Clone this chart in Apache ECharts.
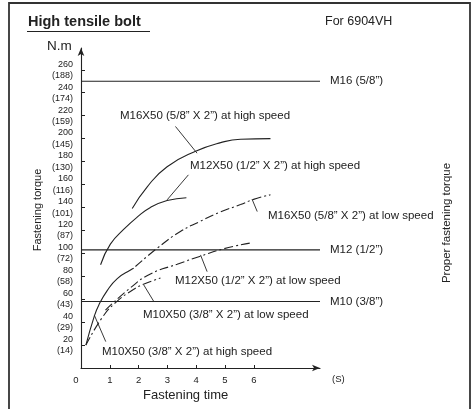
<!DOCTYPE html>
<html><head><meta charset="utf-8">
<script src="https://cdn.jsdelivr.net/npm/echarts@6/dist/echarts.min.js"></script>
<style>html,body{margin:0;padding:0;background:#fff}#c{width:473px;height:409px}</style>
</head><body><div id="c"></div>
<script>
// ---- data ----
const xTicks = [0, 1, 2, 3, 4, 5, 6];
const xTickMarks = [1, 2, 3, 4, 5, 6];
const yTicksNm = [20, 40, 60, 80, 100, 120, 140, 160, 180, 200, 220, 240, 260];
const yTicksLbf = [14, 29, 43, 58, 72, 87, 101, 116, 130, 145, 159, 174, 188];

const m16High = [[1.78,139],[2.30,158],[2.99,175.5],[3.98,189],[4.85,196.5],[5.54,199.5],[6.58,200]];
const m12High = [[0.68,90],[1.02,108],[1.49,121],[1.95,131.5],[2.41,140],[2.99,146],[3.66,148.5]];
const m16Low  = [[1.89,88.5],[2.65,104.5],[3.45,119],[4.15,128],[4.84,136],[5.54,142.5],[5.99,147],[6.58,151]];
const m12Low  = [[0.85,50.5],[1.72,70],[2.41,82],[3.34,90.5],[4.15,97.5],[4.96,104],[5.89,109]];
const m10Low  = [[0.17,20],[0.75,44.5],[1.20,57],[1.82,68.5],[2.17,73],[2.76,78.5]];
const m10High = [[0.17,20],[0.46,45],[0.62,55],[0.91,67.5],[1.26,78],[1.72,85.5],[1.83,87]];

const properNames  = ['M16 (5/8\u201D)', 'M12 (1/2\u201D)', 'M10 (3/8\u201D)'];
const properValues = [250, 103, 58];

const leaders = [
  [[3.28,210.6],[4.03,187.3]],
  [[3.73,168.4],[2.99,146.6]],
  [[5.94,147.2],[6.12,136.4]],
  [[4.15,98.6],[4.38,84]],
  [[2.18,72.4],[2.53,57.9]],
  [[0.46,46.2],[0.86,23]]
];

const xMax = 8.3, yMax = 279;
// ---- chart ----
const ink = '#222';
const font = 'Liberation Sans, Arial, Helvetica, sans-serif';
const chart = echarts.init(document.getElementById('c'), null, {renderer: 'canvas'});

const curve = (name, data, dashed) => ({
  name, type: 'line', data, smooth: 0.5, symbol: 'none', silent: true,
  lineStyle: {color: ink, width: 1.1, type: dashed ? [9, 3, 2, 3] : 'solid'}
});

const series = [
  curve('M16 high', m16High, false),
  curve('M12 high', m12High, false),
  curve('M16 low', m16Low, true),
  curve('M12 low', m12Low, true),
  curve('M10 low', m10Low, true),
  curve('M10 high', m10High, false)
];
properNames.forEach((n, i) => {
  series.push({
    name: n, type: 'line', symbol: 'none', silent: true,
    data: [[0, properValues[i]], [xMax, properValues[i]]],
    lineStyle: {color: ink, width: 1.1},
    endLabel: {show: true, formatter: n, distance: 10, color: ink, fontSize: 11.5, fontFamily: font}
  });
});
leaders.forEach((seg) => {
  series.push({type: 'line', symbol: 'none', silent: true, data: seg, lineStyle: {color: ink, width: 0.9}});
});

const txt = (text, left, y, size, extra) => Object.assign({
  type: 'text', left, top: y - size * 0.62,
  style: Object.assign({text, fill: ink, font: size + 'px ' + font}, extra || {})
});

chart.setOption({
  animation: false,
  grid: {left: 81, right: 153, top: 48, bottom: 41},
  xAxis: {
    type: 'value', min: 0, max: xMax,
    axisLine: {lineStyle: {color: ink, width: 1.1}, symbol: ['none', 'arrow'], symbolSize: [5, 8]},
    axisTick: {inside: true, length: 3, customValues: xTickMarks, lineStyle: {color: ink}},
    axisLabel: {customValues: xTicks, color: ink, fontSize: 9.5, fontFamily: font, margin: 7,
      hideOverlap: false, showMinLabel: true, showMaxLabel: true,
      formatter: v => v === 0 ? '{z|0}' : String(v),
      rich: {z: {padding: [0, 10, 0, 0], fontSize: 9.5, fontFamily: font, color: ink}}},
    splitLine: {show: false}
  },
  yAxis: {
    type: 'value', min: 0, max: yMax,
    axisLine: {show: true, lineStyle: {color: ink, width: 1.1}, symbol: ['none', 'arrow'], symbolSize: [5, 8]},
    axisTick: {show: true, inside: true, length: 4, customValues: yTicksNm, lineStyle: {color: ink}},
    axisLabel: {customValues: yTicksNm, color: ink, fontSize: 9, fontFamily: font, margin: 8,
      hideOverlap: false, showMinLabel: true, showMaxLabel: true,
      lineHeight: 11.3,
      formatter: v => v + '\n(' + yTicksLbf[yTicksNm.indexOf(v)] + ')'},
    splitLine: {show: false}
  },
  series,
  graphic: [
    {type: 'rect', shape: {x: 9, y: 3, width: 461, height: 430}, style: {fill: 'none', stroke: '#333', lineWidth: 1.8}, silent: true},
    txt('High tensile bolt', 28, 23, 14.5, {font: 'bold 14.5px ' + font}),
    {type: 'line', shape: {x1: 27, y1: 31.5, x2: 150, y2: 31.5}, style: {stroke: ink, lineWidth: 1.2}},
    txt('For 6904VH', 325, 23, 12.5),
    txt('N.m', 47, 48, 13.5),
    txt('M16X50 (5/8\u201D X 2\u201D) at high speed', 120, 116.5, 11.5),
    txt('M12X50 (1/2\u201D X 2\u201D) at high speed', 190, 167, 11.5),
    txt('M16X50 (5/8\u201D X 2\u201D) at low speed', 268, 216.5, 11.5),
    txt('M12X50 (1/2\u201D X 2\u201D) at low speed', 175, 282, 11.5),
    txt('M10X50 (3/8\u201D X 2\u201D) at low speed', 143, 316, 11.5),
    txt('M10X50 (3/8\u201D X 2\u201D) at high speed', 102, 352.5, 11.5),
    txt('(S)', 332, 380, 9.5),
    txt('Fastening time', 143, 397, 13),
    {type: 'text', x: 38, y: 210, rotation: Math.PI / 2,
      style: {text: 'Fastening torque', fill: ink, font: '11px ' + font, textAlign: 'center', textVerticalAlign: 'middle'}},
    {type: 'text', x: 447, y: 223, rotation: Math.PI / 2,
      style: {text: 'Proper fastening torque', fill: ink, font: '11.5px ' + font, textAlign: 'center', textVerticalAlign: 'middle'}}
  ]
});
</script>
</body></html>
